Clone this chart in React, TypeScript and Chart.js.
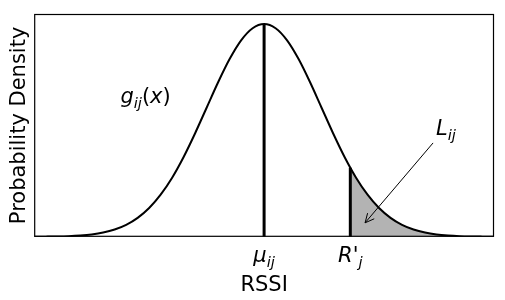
import React, { useEffect, useRef } from "react";
import { Chart, registerables } from "chart.js";

Chart.register(...registerables);

// RSSI (in units of sigma around the mean) and the density
const rssiX = [
  -4.0, -3.8, -3.6, -3.4, -3.2, -3.0, -2.8, -2.6, -2.4, -2.2, -2.0, -1.8, -1.6, -1.4, -1.2, -1.0, -0.8, -0.6, -0.4, -0.2,
  0.0, 0.2, 0.4, 0.6, 0.8, 1.0, 1.2, 1.4, 1.6, 1.8, 2.0, 2.2, 2.4, 2.6, 2.8, 3.0, 3.2, 3.4, 3.6, 3.8, 4.0,
];
const densityY = [
  0.0001, 0.0003, 0.0006, 0.0012, 0.0024, 0.0044, 0.0079, 0.0136, 0.0224, 0.0355, 0.054, 0.079, 0.1109, 0.1497, 0.1942,
  0.242, 0.2897, 0.3332, 0.3683, 0.391, 0.3989, 0.391, 0.3683, 0.3332, 0.2897, 0.242, 0.1942, 0.1497, 0.1109, 0.079,
  0.054, 0.0355, 0.0224, 0.0136, 0.0079, 0.0044, 0.0024, 0.0012, 0.0006, 0.0003, 0.0001,
];
// shaded tail beyond R'_j
const tailX = [1.5, 1.6, 1.8, 2.0, 2.2, 2.4, 2.6, 2.8, 3.0, 3.2, 3.4, 3.6, 3.8, 4.0];
const tailY = [0.1295, 0.1109, 0.079, 0.054, 0.0355, 0.0224, 0.0136, 0.0079, 0.0044, 0.0024, 0.0012, 0.0006, 0.0003, 0.0001];

const meanX = 0;
const meanPeak = 0.3989;
const thresholdX = 1.5;
const thresholdHeight = 0.1295;

const tickValues = [0, 1.5];
const xMin = -4;
const xMax = 4;
const yMax = 0.4177;

type Part = { t: string; italic?: boolean; sub?: boolean };
const tickLabels: Part[][] = [
  [{ t: "μ", italic: true }, { t: "ij", italic: true, sub: true }],
  [{ t: "R'", italic: true }, { t: "j", italic: true, sub: true }],
];
const curveLabel: Part[] = [
  { t: "g", italic: true },
  { t: "ij", italic: true, sub: true },
  { t: "(" },
  { t: "x", italic: true },
  { t: ")" },
];
const tailLabel: Part[] = [
  { t: "L", italic: true },
  { t: "ij", italic: true, sub: true },
];
// annotation anchors in data coordinates
const curveLabelPos = { x: -2.5, y: 0.251 };
const tailLabelPos = { x: 2.99, y: 0.191 };
const arrowFrom = { x: 2.94, y: 0.176 };
const arrowTo = { x: 1.757, y: 0.0262 };

const FONT = "'DejaVu Sans', sans-serif";
const MAIN = 21;
const SUB = 14.7;

function fontFor(p: Part) {
  return `${p.italic ? "italic " : ""}${p.sub ? SUB : MAIN}px ${FONT}`;
}

function drawRich(ctx: CanvasRenderingContext2D, parts: Part[], x: number, y: number, center: boolean) {
  ctx.save();
  ctx.textBaseline = "alphabetic";
  ctx.textAlign = "left";
  ctx.fillStyle = "#000";
  let w = 0;
  for (const p of parts) {
    ctx.font = fontFor(p);
    w += ctx.measureText(p.t).width;
  }
  let cx = center ? x - w / 2 : x;
  for (const p of parts) {
    ctx.font = fontFor(p);
    ctx.fillText(p.t, cx, p.sub ? y + 5 : y);
    cx += ctx.measureText(p.t).width;
  }
  ctx.restore();
}

const annotatePlugin = {
  id: "annotate",
  afterDraw(chart: any) {
    const ctx: CanvasRenderingContext2D = chart.ctx;
    const xs = chart.scales.x;
    const ys = chart.scales.y;
    const a = chart.chartArea;
    // frame
    ctx.save();
    ctx.strokeStyle = "#000";
    ctx.lineWidth = 1.2;
    ctx.strokeRect(a.left + 0.5, a.top + 0.5, a.right - a.left - 1, a.bottom - a.top - 1);
    ctx.restore();
    // tick labels
    tickValues.forEach((v, i) => {
      drawRich(ctx, tickLabels[i], xs.getPixelForValue(v), a.bottom + 25, true);
    });
    drawRich(ctx, curveLabel, xs.getPixelForValue(curveLabelPos.x), ys.getPixelForValue(curveLabelPos.y), false);
    drawRich(ctx, tailLabel, xs.getPixelForValue(tailLabelPos.x), ys.getPixelForValue(tailLabelPos.y), false);
    // arrow
    const x1 = xs.getPixelForValue(arrowFrom.x);
    const y1 = ys.getPixelForValue(arrowFrom.y);
    const x2 = xs.getPixelForValue(arrowTo.x);
    const y2 = ys.getPixelForValue(arrowTo.y);
    const ang = Math.atan2(y2 - y1, x2 - x1);
    const hl = 10;
    ctx.save();
    ctx.strokeStyle = "#000";
    ctx.lineWidth = 1;
    ctx.beginPath();
    ctx.moveTo(x1, y1);
    ctx.lineTo(x2, y2);
    ctx.moveTo(x2 - hl * Math.cos(ang - 0.45), y2 - hl * Math.sin(ang - 0.45));
    ctx.lineTo(x2, y2);
    ctx.lineTo(x2 - hl * Math.cos(ang + 0.45), y2 - hl * Math.sin(ang + 0.45));
    ctx.stroke();
    ctx.restore();
  },
};

export default function App() {
  const ref = useRef<HTMLCanvasElement>(null);
  useEffect(() => {
    document.body.style.margin = "0";
    const curve = rssiX.map((x, i) => ({ x, y: densityY[i] }));
    const tail = tailX.map((x, i) => ({ x, y: tailY[i] }));
    const chart = new Chart(ref.current!, {
      type: "line",
      data: {
        datasets: [
          {
            data: curve,
            borderColor: "#000",
            borderWidth: 2,
            pointRadius: 0,
            cubicInterpolationMode: "monotone",
            fill: false,
            order: 0,
          },
          {
            data: [
              { x: meanX, y: 0 },
              { x: meanX, y: meanPeak },
            ],
            borderColor: "#000",
            borderWidth: 3,
            pointRadius: 0,
            fill: false,
            order: 1,
          },
          {
            data: [
              { x: thresholdX, y: 0 },
              { x: thresholdX, y: thresholdHeight },
            ],
            borderColor: "#000",
            borderWidth: 3,
            pointRadius: 0,
            fill: false,
            order: 1,
          },
          {
            data: tail,
            borderWidth: 0,
            borderColor: "rgba(0,0,0,0)",
            backgroundColor: "#b3b3b3",
            pointRadius: 0,
            cubicInterpolationMode: "monotone",
            fill: "origin",
            order: 2,
          },
        ],
      },
      options: {
        animation: false,
        responsive: true,
        maintainAspectRatio: false,
        events: [],
        layout: { padding: { top: 14, right: 11, left: 0, bottom: 0 } },
        plugins: { legend: { display: false }, tooltip: { enabled: false } },
        scales: {
          x: {
            type: "linear",
            min: xMin,
            max: xMax,
            grid: { display: false, drawTicks: false, tickLength: 0 },
            border: { display: false },
            afterBuildTicks: (s: any) => {
              s.ticks = tickValues.map((v) => ({ value: v }));
            },
            ticks: { display: false },
            title: {
              display: true,
              text: "RSSI",
              color: "#000",
              font: { family: FONT, size: 21 },
              padding: { top: 36, bottom: 2 },
            },
          },
          y: {
            type: "linear",
            min: 0,
            max: yMax,
            grid: { display: false, drawTicks: false, tickLength: 0 },
            border: { display: false },
            ticks: { display: false },
            title: {
              display: true,
              text: "Probability Density",
              color: "#000",
              font: { family: FONT, size: 21 },
              padding: { top: 7, bottom: 2 },
            },
          },
        },
      },
      plugins: [annotatePlugin],
    } as any);
    return () => chart.destroy();
  }, []);
  return (
    <div style={{ position: "fixed", left: 0, top: 0, width: 505, height: 300, background: "#fff" }}>
      <canvas ref={ref} />
    </div>
  );
}
